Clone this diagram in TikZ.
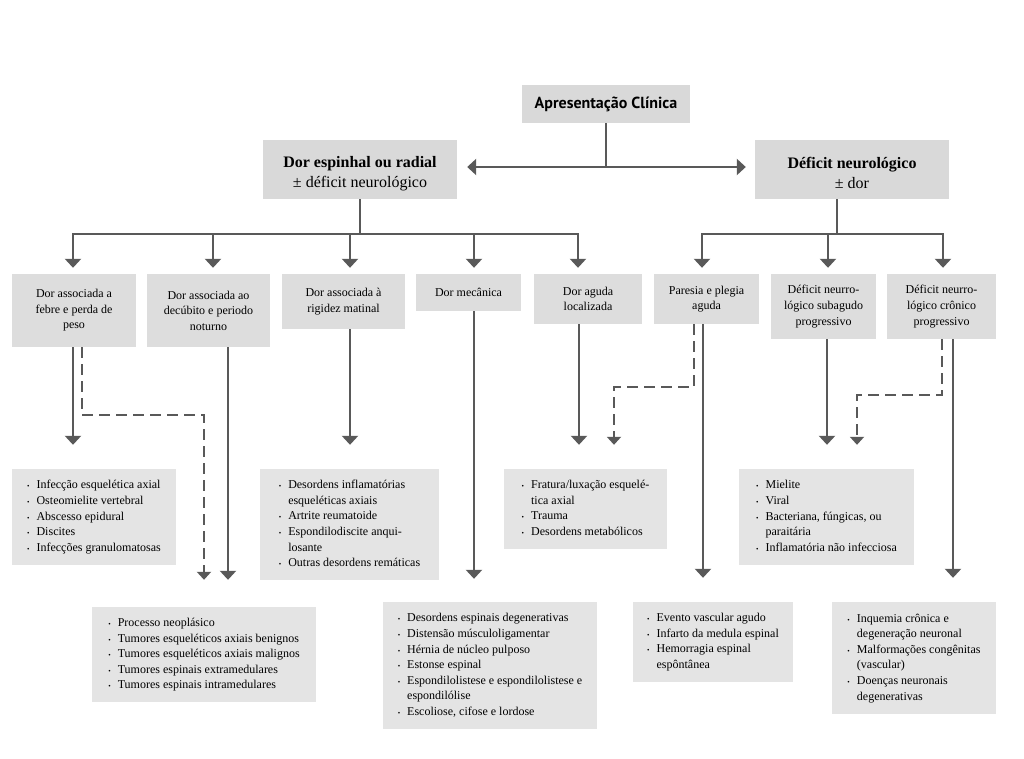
\documentclass[tikz,border=0pt]{standalone}
\usepackage{fontspec}
\setmainfont{Liberation Serif}
\newfontfamily\titlefont{PT Sans}
\usetikzlibrary{arrows.meta,calc}
\definecolor{lncol}{HTML}{595959}
\definecolor{fillTop}{HTML}{D9D9D9}
\definecolor{fillMid}{HTML}{DDDDDD}
\definecolor{fillLow}{HTML}{E4E4E4}
\newcommand{\bl}{{\scriptsize\textbullet}}
\begin{document}
\begin{tikzpicture}[x=1pt,y=-1pt,
  topbox/.style={fill=fillTop, inner sep=0pt, align=center, font=\titlefont\bfseries\fontsize{16}{19}\selectfont},
  mainbox/.style={fill=fillTop, inner sep=0pt, align=center, font=\fontsize{16}{20}\selectfont},
  midbox/.style={fill=fillMid, inner sep=0pt, align=center, font=\fontsize{12}{15.6}\selectfont},
  lowbox/.style={fill=fillLow, inner sep=0pt, font=\fontsize{12}{15.6}\selectfont},
  ln/.style={draw=lncol, line width=2.8pt},
  arr/.style={ln, -{Triangle[width=16pt,length=9pt]}},
  darr/.style={draw=lncol, line width=2.4pt, dash pattern=on 11pt off 6pt, -{Triangle[width=14pt,length=8pt]}},
  dbl/.style={ln, {Triangle[width=16pt,length=9pt]}-{Triangle[width=16pt,length=9pt]}}
]
\useasboundingbox[fill=white] (0,0) rectangle (1024,759);

% top level
\node[topbox, minimum width=168pt, minimum height=38pt] (top) at (606,104) {Apresentação Clínica};
\node[mainbox, minimum width=194pt, minimum height=59pt] (L) at (360,169.5)
  {\rule{0pt}{19pt}{\bfseries Dor espinhal ou radial}\\± déficit neurológico};
\node[mainbox, minimum width=194pt, minimum height=59pt] (R) at (852,169.5)
  {\rule{0pt}{19pt}{\bfseries Déficit neurológico}\\± dor};

\coordinate (hj) at (606,167);
\path (L.east) ++(10,0) coordinate (la);
\path (R.west) ++(-9,0) coordinate (ra);
\draw[ln] (top.south) -- (hj);
\draw[dbl] (la |- hj) -- (ra |- hj);

% second row
\node[midbox, minimum width=124pt, minimum height=73pt] (b1) at (74,310.5) {Dor associada a\\febre e perda de\\peso};
\node[midbox, minimum width=123pt, minimum height=73pt] (b2) at (208.5,310.5) {Dor associada ao\\decúbito e periodo\\noturno};
\node[midbox, minimum width=123pt, minimum height=55pt] (b3) at (343.5,301.5) {Dor associada à\\rigidez matinal};
\node[midbox, minimum width=105pt, minimum height=37pt] (b4) at (468.5,292.5) {Dor mecânica};
\node[midbox, minimum width=108pt, minimum height=50pt] (b5) at (588,299) {Dor aguda\\localizada};
\node[midbox, minimum width=105pt, minimum height=50pt] (b6) at (706.5,299) {Paresia e plegia\\aguda};
\node[midbox, minimum width=105pt, minimum height=65pt] (b7) at (823.5,306.5) {Déficit neurro-\\lógico subagudo\\progressivo};
\node[midbox, minimum width=109pt, minimum height=65pt] (b8) at (941.5,306.5) {Déficit neurro-\\lógico crônico\\progressivo};

% bar coordinates
\coordinate (t1) at (73,234);
\coordinate (t2) at (213,234);
\coordinate (t3) at (350,234);
\coordinate (t4) at (474,234);
\coordinate (t5) at (578,234);
\coordinate (r1) at (702,234);
\coordinate (r2) at (828,234);
\coordinate (r3) at (943,234);
\path (b1.north) ++(0,-6) coordinate (rowtip);

\draw[ln] (L.south) -- (L.south |- t1);
\draw[dbl] (rowtip -| t1) -- (t1) -- (t5) -- (rowtip -| t5);
\draw[arr] (t2) -- (rowtip -| t2);
\draw[arr] (t3) -- (rowtip -| t3);
\draw[arr] (t4) -- (rowtip -| t4);

\path (R.south) ++(-15,0) coordinate (rs);
\draw[ln] (rs) -- (rs |- r1);
\draw[dbl] (rowtip -| r1) -- (r1) -- (r3) -- (rowtip -| r3);
\draw[arr] (r2) -- (rowtip -| r2);

% bottom boxes
\node[lowbox, minimum width=164pt, minimum height=96pt] (A) at (94,517) {\begin{tabular}{@{}l@{\hspace{7pt}}l@{}}
\bl & Infecção esquelética axial\\
\bl & Osteomielite vertebral\\
\bl & Abscesso epidural\\
\bl & Discites\\
\bl & Infecções granulomatosas
\end{tabular}};
\node[lowbox, minimum width=179pt, minimum height=111pt] (B) at (349.5,524.5) {\begin{tabular}{@{}l@{\hspace{7pt}}l@{}}
\bl & Desordens inflamatórias\\
    & esqueléticas axiais\\
\bl & Artrite reumatoide\\
\bl & Espondilodiscite anqui-\\
    & losante\\
\bl & Outras desordens remáticas
\end{tabular}};
\node[lowbox, minimum width=163pt, minimum height=80pt] (C) at (585.5,509) {\begin{tabular}{@{}l@{\hspace{7pt}}l@{}}
\bl & Fratura/luxação esquelé-\\
    & tica axial\\
\bl & Trauma\\
\bl & Desordens metabólicos
\end{tabular}};
\node[lowbox, minimum width=175pt, minimum height=96pt] (D) at (826.5,517) {\begin{tabular}{@{}l@{\hspace{7pt}}l@{}}
\bl & Mielite\\
\bl & Viral\\
\bl & Bacteriana, fúngicas, ou\\
    & paraitária\\
\bl & Inflamatória não infecciosa
\end{tabular}};
\node[lowbox, minimum width=224pt, minimum height=95pt] (E) at (204,654.5) {\begin{tabular}{@{}l@{\hspace{7pt}}l@{}}
\bl & Processo neoplásico\\
\bl & Tumores esqueléticos axiais benignos\\
\bl & Tumores esqueléticos axiais malignos\\
\bl & Tumores espinais extramedulares\\
\bl & Tumores espinais intramedulares
\end{tabular}};
\node[lowbox, minimum width=214pt, minimum height=127pt] (F) at (490,665.5) {\begin{tabular}{@{}l@{\hspace{7pt}}l@{}}
\bl & Desordens espinais degenerativas\\
\bl & Distensão músculoligamentar\\
\bl & Hérnia de núcleo pulposo\\
\bl & Estonse espinal\\
\bl & Espondilolistese e espondilolistese e\\
    & espondilólise\\
\bl & Escoliose, cifose e lordose
\end{tabular}};
\node[lowbox, minimum width=160pt, minimum height=80pt] (G) at (713,642) {\begin{tabular}{@{}l@{\hspace{7pt}}l@{}}
\bl & Evento vascular agudo\\
\bl & Infarto da medula espinal\\
\bl & Hemorragia espinal\\
    & espôntânea
\end{tabular}};
\node[lowbox, minimum width=164pt, minimum height=112pt] (H) at (914,658) {\begin{tabular}{@{}l@{\hspace{7pt}}l@{}}
\bl & Inquemia crônica e\\
    & degeneração neuronal\\
\bl & Malformações congênitas\\
    & (vascular)\\
\bl & Doenças neuronais\\
    & degenerativas
\end{tabular}};

% tip coordinates
\path (A.north) ++(0,-24) coordinate (Atip);
\path (B.north) ++(0,-24) coordinate (Btip);
\path (C.north) ++(0,-24) coordinate (Ctip);
\path (D.north) ++(0,-24) coordinate (Dtip);
\path (E.north) ++(0,-27) coordinate (Etip);
\path (F.north) ++(0,-23) coordinate (Ftip);
\path (G.north) ++(0,-24) coordinate (Gtip);
\path (H.north) ++(0,-24) coordinate (Htip);

% vertical line x positions
\coordinate (k1) at (73,0);
\coordinate (k2) at (228,0);
\coordinate (k3) at (350,0);
\coordinate (k4) at (474,0);
\coordinate (k5) at (579,0);
\coordinate (k6) at (703,0);
\coordinate (k7) at (827,0);
\coordinate (k8) at (953,0);

\draw[arr] (b1.south -| k1) -- (Atip -| k1);
\draw[arr] (b2.south -| k2) -- (Etip -| k2);
\draw[arr] (b3.south -| k3) -- (Btip -| k3);
\draw[arr] (b4.south -| k4) -- (Ftip -| k4);
\draw[arr] (b5.south -| k5) -- (Ctip -| k5);
\draw[arr] (b6.south -| k6) -- (Gtip -| k6);
\draw[arr] (b7.south -| k7) -- (Dtip -| k7);
\draw[arr] (b8.south -| k8) -- (Htip -| k8);

% dashed connectors
\coordinate (d1) at (82,415);
\coordinate (d1b) at (204,415);
\coordinate (d6) at (694,387);
\coordinate (d6b) at (614,387);
\coordinate (d8) at (942,395);
\coordinate (d8b) at (857,395);
\draw[darr] (b1.south -| d1) -- (d1) -- (d1b) -- (Etip -| d1b);
\draw[darr] (b6.south -| d6) -- (d6) -- (d6b) -- (Ctip -| d6b);
\draw[darr] (b8.south -| d8) -- (d8) -- (d8b) -- (Dtip -| d8b);
\end{tikzpicture}
\end{document}
